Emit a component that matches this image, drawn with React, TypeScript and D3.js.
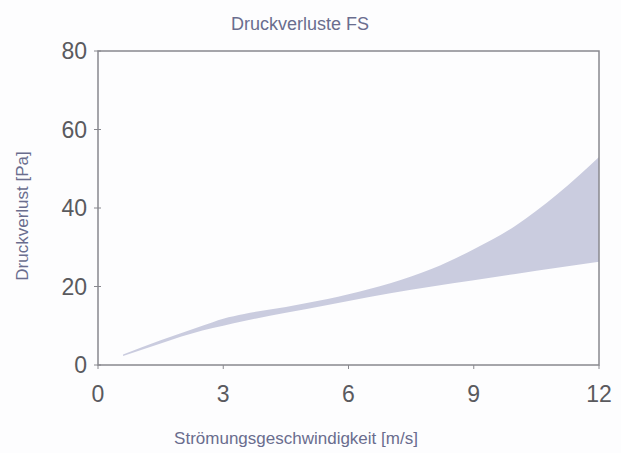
import React from 'react'
import * as d3 from 'd3'

// Strömungsgeschwindigkeit [m/s]
const speed = [0.6, 1.5, 2.5, 3, 3.5, 4.5, 5.5, 6, 7, 8, 9, 10, 11, 12]
// lower / upper bound of the pressure loss band [Pa]
const lossLow = [2.3, 5.5, 8.8, 10, 11.2, 13.3, 15.3, 16.3, 18.3, 20, 21.6, 23.2, 24.8, 26.3]
const lossHigh = [2.7, 6.3, 10, 11.8, 13, 14.8, 16.8, 18, 20.8, 24.5, 29.5, 35.5, 43.5, 53]

const xTicks = [0, 3, 6, 9, 12]
const yTicks = [0, 20, 40, 60, 80]

const W = 621
const H = 453
const margin = { top: 51, right: 22, bottom: 88, left: 98 }

export default function App() {
  const w = W - margin.left - margin.right
  const h = H - margin.top - margin.bottom

  const x = d3.scaleLinear().domain([0, 12]).range([0, w])
  const y = d3.scaleLinear().domain([0, 80]).range([h, 0])

  const band = speed.map((s, i) => ({ s, lo: lossLow[i], hi: lossHigh[i] }))
  const area = d3.area<{ s: number; lo: number; hi: number }>()
    .x(d => x(d.s))
    .y0(d => y(d.lo))
    .y1(d => y(d.hi))
    .curve(d3.curveMonotoneX)

  const frame = '#88888e'
  const tickText = '#5a5a5e'
  const titleText = '#6a6d8e'

  return (
    <div style={{ position: 'fixed', left: 0, top: 0 }}>
      <svg width={W} height={H} style={{ display: 'block', background: '#fdfdfe' }}
        fontFamily="'Liberation Sans', Arial, sans-serif">
        <text x={300} y={30} textAnchor="middle" fontSize={18} fill={titleText}>Druckverluste FS</text>
        <g transform={`translate(${margin.left},${margin.top})`}>
          {/* band */}
          <path d={area(band) || ''} fill="#caccdf" />
          {/* frame */}
          <rect x={0} y={0} width={w} height={h} fill="none" stroke={frame} strokeWidth={1.5} />
          {/* y axis ticks + labels */}
          {yTicks.map(t => (
            <g key={'y' + t} transform={`translate(0,${y(t)})`}>
              <line x1={-4} x2={3} stroke={frame} strokeWidth={1} />
              <text x={-11} dy="0.36em" textAnchor="end" fontSize={23} fill={tickText}>{t}</text>
            </g>
          ))}
          {/* x axis ticks + labels */}
          {xTicks.map(t => (
            <g key={'x' + t} transform={`translate(${x(t)},${h})`}>
              <line y1={0} y2={4} stroke={frame} strokeWidth={1} />
              <text y={29} dy="0.36em" textAnchor="middle" fontSize={23} fill={tickText}>{t}</text>
            </g>
          ))}
        </g>
        <text x={296} y={444} textAnchor="middle" fontSize={17} fill={titleText}>Strömungsgeschwindigkeit [m/s]</text>
        <text transform="translate(28,216) rotate(-90)" textAnchor="middle" fontSize={17} fill={titleText}>Druckverlust [Pa]</text>
      </svg>
    </div>
  )
}
